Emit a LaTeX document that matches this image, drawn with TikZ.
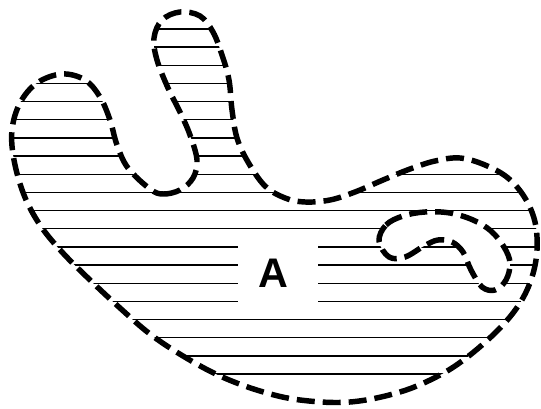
\documentclass[tikz,border=0pt]{standalone}
\usepackage{fontspec}
\setmainfont{Liberation Sans}
\begin{document}
\begin{tikzpicture}[x=0.75pt,y=-0.75pt,
  outline/.style={line width=4.1pt, dash pattern=on 13.5pt off 6pt, line cap=butt, line join=round},
  hatch/.style={line width=1pt, black},
  labelbox/.style={fill=white, draw=none, minimum width=60pt, minimum height=54pt, inner sep=0pt},
  labeltext/.style={inner sep=0pt, font=\fontsize{31}{31}\selectfont\bfseries}]
\useasboundingbox (0,0) rectangle (541,409);
\def\outershape{plot[smooth cycle, tension=0.6] coordinates {
 (150,189) (163,194) (180,190) (193,178) (197,160) (190,135) (180,112) (168,88)
 (157,60) (154,38) (162,20) (180,12) (200,16) (213,32) (222,55) (229,80) (232,110)
 (237,138) (248,162) (265,186) (285,198) (305,202) (330,200) (355,192) (383,180)
 (410,169) (435,161) (460,158) (485,165) (508,178) (525,198) (535,222) (537,250)
 (532,277) (520,303) (500,328) (470,355) (440,375) (400,392) (350,402) (300,400)
 (260,391) (220,376) (183,356) (150,334) (120,308) (90,280) (62,252) (40,225)
 (24,195) (14,160) (12,130) (20,103) (37,83) (62,74) (85,80) (100,97) (110,120)
 (117,145) (128,168)}}
\def\hookshape{plot[smooth cycle, tension=0.6] coordinates {
 (379,241) (386,225) (403,216) (425,212) (450,213) (473,220) (491,231) (504,247)
 (510,263) (506,280) (495,290) (482,287) (471,270) (463,252) (452,242) (438,240)
 (424,246) (405,257) (389,257)}}
\begin{scope}
  \clip \outershape;
  \foreach \i in {0,...,19} {
    \draw[hatch] (0,{29+18.16*\i}) -- (541,{29+18.16*\i});
  }
  \fill[white] \hookshape;
\end{scope}
\node[labelbox] (box) at (278,274) {};
\node[labeltext] (A) at (273,273) {A};
\draw[outline] \outershape;
\draw[outline] \hookshape;
\end{tikzpicture}
\end{document}
